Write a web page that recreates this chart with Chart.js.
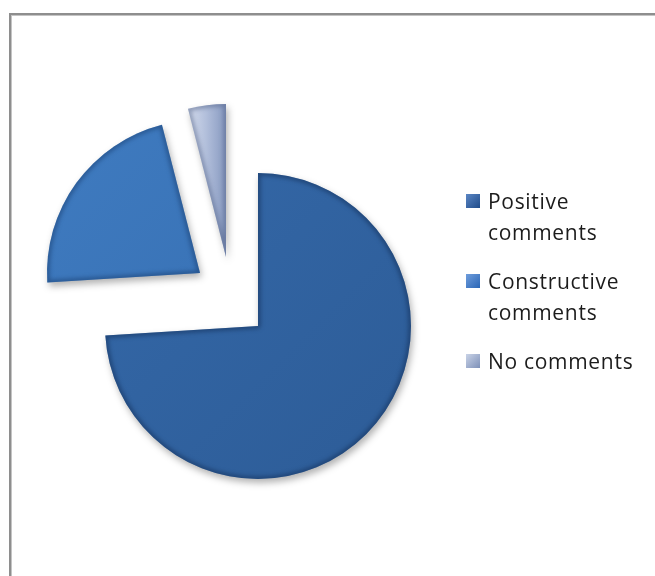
<!DOCTYPE html>
<html>
<head>
<meta charset="utf-8">
<script src="https://cdn.jsdelivr.net/npm/chart.js@4.4.1/dist/chart.umd.min.js"></script>
<style>
  html, body { margin: 0; padding: 0; background: #fff; }
  #wrap { position: relative; width: 655px; height: 576px; overflow: hidden; }
  #frame {
    position: absolute; left: 9px; top: 13px; width: 700px; height: 620px;
    border-top: 2px solid #8e8e8e; border-left: 2px solid #8e8e8e;
    box-shadow: inset 1px 1px 0 #c4c4c4;
  }
  #feedback-chart { position: absolute; left: 0; top: 0; }
  #legend {
    position: absolute; left: 466px; top: 186px; width: 180px;
    font-family: "Open Sans", sans-serif; font-size: 21px; letter-spacing: 0.7px; color: #1c1c1c;
  }
  .item { position: relative; padding-left: 22px; line-height: 31px; margin-bottom: 18px; }
  .swatch { position: absolute; left: 0; top: 8px; width: 14px; height: 14px; }
</style>
</head>
<body>
<div id="wrap">
  <div id="frame"></div>
  <canvas id="feedback-chart" width="655" height="576"></canvas>
  <div id="legend"></div>
</div>
<script>
// Feedback split
const categories = ['Positive comments', 'Constructive comments', 'No comments'];
const shares = [74, 22, 4];

// Slice look: base fill, darker rim, and how far each slice is pulled out (dx, dy)
const sliceColors = ['#2f609d', '#3a74b8', '#a9b7d6'];
const rimColors = ['rgba(20,48,90,0.6)', 'rgba(24,60,110,0.55)', 'rgba(80,96,134,0.55)'];
const sliceShift = [[0, 0], [-58, -53], [-32, -69]];
const swatchFills = [
  'linear-gradient(135deg, #5b86c4, #1f4c8a)',
  'linear-gradient(135deg, #6f9ddc, #2a66b6)',
  'linear-gradient(135deg, #c9d3e7, #7d90b8)'
];

function wedgePath(ctx, cx, cy, r, a0, a1) {
  ctx.beginPath();
  ctx.moveTo(cx, cy);
  ctx.arc(cx, cy, r, a0, a1);
  ctx.closePath();
}

function sliceFill(ctx, i, cx, cy, r) {
  if (i === 2) {
    const g = ctx.createLinearGradient(cx - 40, 0, cx, 0);
    g.addColorStop(0, '#d8dfee');
    g.addColorStop(0.5, '#b2bfdb');
    g.addColorStop(1, '#8799c0');
    return g;
  }
  const g = ctx.createLinearGradient(cx - r, cy - r, cx + r, cy + r);
  if (i === 0) {
    g.addColorStop(0, '#3468a8');
    g.addColorStop(1, '#2d5c97');
  } else {
    g.addColorStop(0, '#3f7bc0');
    g.addColorStop(1, '#356db0');
  }
  return g;
}

// Paints the exploded, bevelled wedges from the arc geometry the pie controller works out
const bevelPie = {
  id: 'bevelPie',
  beforeDatasetsDraw(chart) {
    const ctx = chart.ctx;
    const arcs = chart.getDatasetMeta(0).data;
    arcs.forEach((arc, i) => {
      const p = arc.getProps(['x', 'y', 'startAngle', 'endAngle', 'outerRadius'], true);
      const cx = p.x + sliceShift[i][0];
      const cy = p.y + sliceShift[i][1];
      const r = p.outerRadius;

      // drop shadow + base fill
      ctx.save();
      ctx.shadowColor = 'rgba(0,0,0,0.3)';
      ctx.shadowBlur = 7;
      ctx.shadowOffsetX = 2;
      ctx.shadowOffsetY = 4;
      wedgePath(ctx, cx, cy, r, p.startAngle, p.endAngle);
      ctx.fillStyle = sliceFill(ctx, i, cx, cy, r);
      ctx.fill();
      ctx.restore();

      // soft darker rim inside the edges
      ctx.save();
      wedgePath(ctx, cx, cy, r, p.startAngle, p.endAngle);
      ctx.clip();
      ctx.filter = 'blur(2px)';
      ctx.lineWidth = 5;
      ctx.lineJoin = 'round';
      ctx.strokeStyle = rimColors[i];
      wedgePath(ctx, cx, cy, r, p.startAngle, p.endAngle);
      ctx.stroke();
      ctx.restore();
    });
    return false;
  }
};

const legendEl = document.getElementById('legend');
categories.forEach((label, i) => {
  const item = document.createElement('div');
  item.className = 'item';
  const sw = document.createElement('span');
  sw.className = 'swatch';
  sw.style.background = swatchFills[i];
  item.appendChild(sw);
  item.appendChild(document.createTextNode(label));
  legendEl.appendChild(item);
});

new Chart(document.getElementById('feedback-chart'), {
  type: 'pie',
  data: {
    labels: categories,
    datasets: [{
      data: shares,
      backgroundColor: sliceColors,
      borderWidth: 0
    }]
  },
  options: {
    responsive: false,
    animation: false,
    layout: { padding: { left: 105, right: 244, top: 173, bottom: 97 } },
    plugins: {
      legend: { display: false },
      tooltip: { enabled: false }
    }
  },
  plugins: [bevelPie]
});
</script>
</body>
</html>
